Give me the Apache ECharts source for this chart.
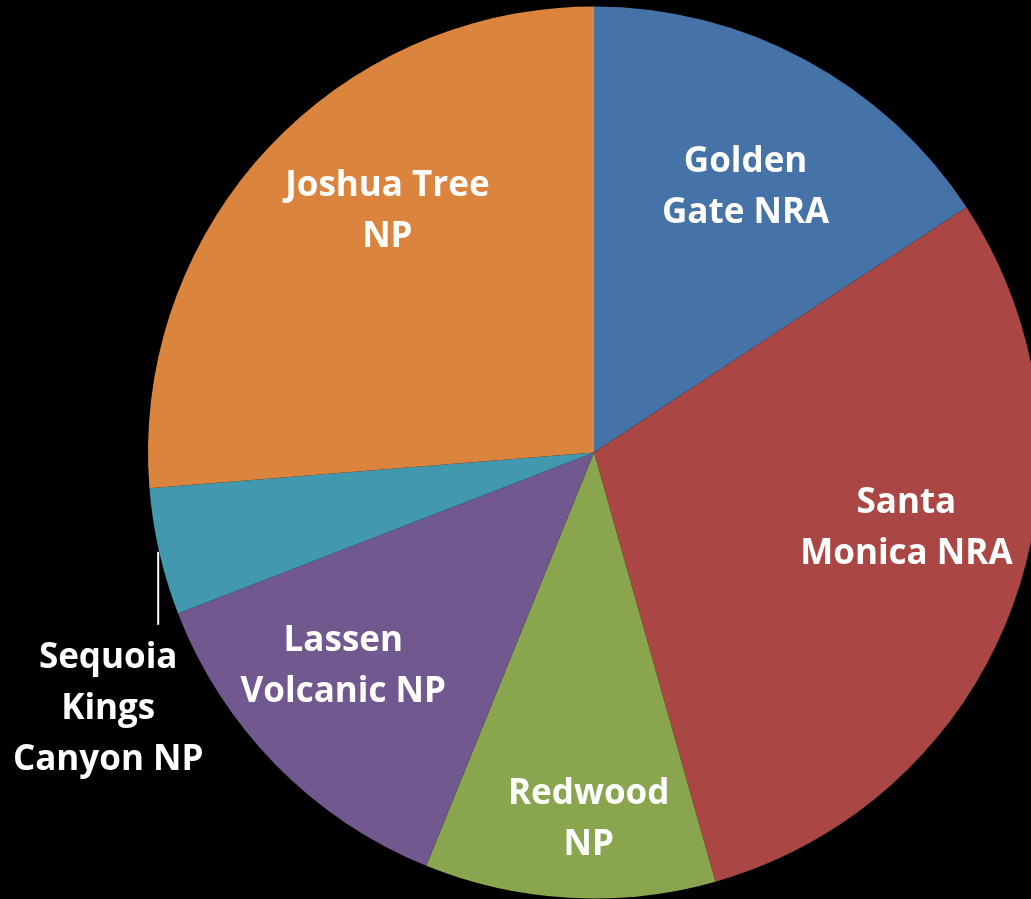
<!DOCTYPE html>
<html>
<head>
<meta charset="utf-8">
<title>California National Park Units</title>
<script src="https://cdn.jsdelivr.net/npm/echarts@6/dist/echarts.min.js"></script>
<style>
  html, body { margin: 0; padding: 0; background: #000; }
  #chart { width: 1031px; height: 899px; }
</style>
</head>
<body>
<div id="chart"></div>
<script>
// Park units, clockwise from 12 o'clock
const parks = [
  'Golden\nGate NRA',
  'Santa\nMonica NRA',
  'Redwood\nNP',
  'Lassen\nVolcanic NP',
  'Sequoia\nKings\nCanyon NP',
  'Joshua Tree\nNP'
];
// Share of the total (percent)
const shares = [15.74, 29.88, 10.53, 12.99, 4.60, 26.28];
const colors = ['#4572A7', '#AA4643', '#89A54E', '#71588F', '#4198AF', '#DB843D'];

// Nudges for the in-slice labels (px), per park
const labelNudge = [[2, 12], [17, -34], [12, 52], [-26, -7], [0, 0], [25, -27]];
const outsideIdx = 4;

const CENTER = [594, 452.5];
const R = 446;

const labelFont = {
  color: '#fff',
  fontFamily: '"Open Sans", "Liberation Sans", sans-serif',
  fontWeight: 'bold',
  fontSize: 35,
  lineHeight: 51,
  align: 'center',
  overflow: 'none'
};

const chart = echarts.init(document.getElementById('chart'), null, { renderer: 'canvas' });

chart.setOption({
  backgroundColor: '#000',
  animation: false,
  series: [
    {
      // coloured slices
      type: 'pie',
      center: CENTER,
      radius: [0, R],
      startAngle: 90,
      clockwise: true,
      silent: true,
      label: { show: false },
      labelLine: { show: false },
      itemStyle: { borderWidth: 0 },
      data: parks.map((n, i) => ({ name: n, value: shares[i], itemStyle: { color: colors[i] } }))
    },
    {
      // transparent ring carrying the labels further out than mid-radius
      type: 'pie',
      center: CENTER,
      radius: [R * 0.4, R],
      startAngle: 90,
      clockwise: true,
      silent: true,
      itemStyle: { color: 'rgba(0,0,0,0)', borderWidth: 0 },
      label: { alignTo: 'none', edgeDistance: 0, bleedMargin: 0 },
      data: parks.map((n, i) => {
        const inside = i !== outsideIdx;
        return {
          name: n,
          value: shares[i],
          label: inside
            ? Object.assign({ show: true, position: 'inside', offset: labelNudge[i], formatter: '{b}' }, labelFont)
            : Object.assign({ show: true, position: 'outside', formatter: '{b}' }, labelFont),
          labelLine: inside
            ? { show: false }
            : { show: true, length: 10, length2: 10, lineStyle: { color: '#fff', width: 2 } }
        };
      }),
      labelLayout: function (params) {
        // Sequoia's label hangs below its slice on a straight vertical leader
        if (params.dataIndex !== outsideIdx || !params.labelLinePoints) return {};
        const a = params.labelLinePoints[0];
        const drop = [a[0] - 1, a[1] + 73];
        return {
          x: a[0] - 51,
          y: a[1] + 157,
          align: 'center',
          verticalAlign: 'middle',
          labelLinePoints: [[a[0] - 1, a[1]], drop, drop]
        };
      }
    }
  ]
});
</script>
</body>
</html>
